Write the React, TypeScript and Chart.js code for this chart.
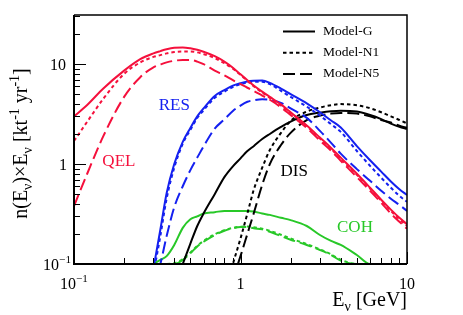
import React, { useEffect, useRef } from 'react';
import { Chart, registerables } from 'chart.js';
Chart.register(...registerables);

// Neutrino energy grid [GeV]
const energies = [0.1, 0.12, 0.15, 0.2, 0.25, 0.3, 0.33, 0.36, 0.4, 0.45, 0.5, 0.55, 0.6, 0.7, 0.8, 0.9, 1, 1.1, 1.2, 1.35, 1.5, 1.75, 2, 2.5, 3, 3.5, 4, 5, 6, 7, 8, 9, 10];

// QEL
const qelG = [3.0, 3.9, 5.7, 8.6, 11.2, 12.8, 13.5, 14.1, 14.6, 14.7, 14.4, 13.9, 13.3, 12.0, 10.6, 9.2, 7.9, 6.9, 6.1, 5.3, 4.7, 3.95, 3.3, 2.43, 1.84, 1.45, 1.16, 0.80, 0.58, 0.44, 0.35, 0.29, 0.25];
const qelN1 = [1.7, 2.65, 4.5, 8.0, 10.4, 11.8, 12.3, 12.8, 13.2, 13.4, 13.4, 13.1, 12.6, 11.5, 10.2, 9.0, 7.8, 6.8, 6.0, 5.2, 4.6, 3.85, 3.25, 2.4, 1.8, 1.42, 1.13, 0.78, 0.57, 0.43, 0.34, 0.28, 0.24];
const qelN5 = [0.38, 0.8, 1.9, 4.7, 7.4, 9.3, 9.9, 10.4, 10.8, 11.0, 11.0, 10.6, 10.0, 8.6, 7.7, 6.9, 6.3, 5.8, 5.4, 4.85, 4.4, 3.7, 3.1, 2.3, 1.72, 1.36, 1.08, 0.74, 0.54, 0.41, 0.32, 0.265, 0.225];

// RES
const resG = [null, null, null, null, null, 0.09, 0.22, 0.51, 1.0, 1.67, 2.3, 3.0, 3.6, 4.8, 5.5, 6.1, 6.45, 6.7, 6.8, 6.85, 6.5, 5.7, 5.0, 4.05, 3.3, 2.73, 2.32, 1.51, 1.09, 0.84, 0.67, 0.56, 0.49];
const resN1 = [null, null, null, null, null, 0.08, 0.19, 0.45, 0.92, 1.6, 2.2, 2.9, 3.45, 4.6, 5.3, 5.9, 6.3, 6.55, 6.65, 6.65, 6.3, 5.4, 4.7, 3.75, 3.05, 2.5, 2.1, 1.35, 0.96, 0.73, 0.58, 0.48, 0.42];
const resN5 = [null, null, null, null, null, 0.06, 0.1, 0.19, 0.37, 0.6, 0.87, 1.16, 1.5, 2.26, 2.8, 3.4, 3.85, 4.2, 4.35, 4.45, 4.4, 4.1, 3.6, 2.9, 2.15, 1.63, 1.27, 0.89, 0.68, 0.54, 0.45, 0.39, 0.34];

// DIS
const disG = [null, null, null, null, null, null, null, null, 0.06, 0.1, 0.16, 0.24, 0.32, 0.5, 0.74, 0.95, 1.14, 1.35, 1.51, 1.78, 2.0, 2.35, 2.66, 3.1, 3.27, 3.38, 3.42, 3.35, 3.1, 2.82, 2.54, 2.36, 2.25];
const disN1 = [null, null, null, null, null, null, null, null, null, null, null, null, null, null, 0.05, 0.1, 0.18, 0.32, 0.55, 0.92, 1.38, 2.05, 2.7, 3.35, 3.68, 3.88, 3.98, 3.88, 3.62, 3.3, 3.0, 2.76, 2.55];
const disN5 = [null, null, null, null, null, null, null, null, null, null, null, null, null, null, null, 0.07, 0.12, 0.2, 0.32, 0.62, 1.0, 1.55, 2.05, 2.75, 3.05, 3.2, 3.25, 3.2, 3.0, 2.75, 2.6, 2.42, 2.3];

// COH
const cohG = [null, null, null, null, null, 0.1, 0.11, 0.12, 0.155, 0.23, 0.28, 0.3, 0.32, 0.33, 0.34, 0.34, 0.34, 0.34, 0.335, 0.32, 0.31, 0.29, 0.275, 0.24, 0.195, 0.17, 0.155, 0.123, 0.1, 0.1, 0.1, 0.1, null];
const cohN1 = [null, null, null, null, null, null, 0.1, 0.1, 0.102, 0.112, 0.13, 0.152, 0.17, 0.198, 0.218, 0.23, 0.236, 0.237, 0.233, 0.226, 0.215, 0.196, 0.18, 0.158, 0.14, 0.125, 0.11, 0.1, 0.1, 0.1, 0.1, 0.1, null];
const cohN5 = [null, null, null, null, null, null, 0.1, 0.1, 0.1, 0.11, 0.128, 0.15, 0.167, 0.195, 0.215, 0.228, 0.234, 0.234, 0.228, 0.222, 0.21, 0.19, 0.175, 0.155, 0.138, 0.123, 0.108, 0.1, 0.1, 0.1, 0.1, 0.1, null];

const xTickValues = [0.1, 1, 10];
const yTickValues = [0.1, 1, 10];
const legendLabels = ['Model-G', 'Model-N1', 'Model-N5'];
const processNames = ['QEL', 'RES', 'DIS', 'COH'];

const RED = '#f5103c';
const BLUE = '#1420f0';
const BLACK = '#000000';
const GREEN = '#28c828';
const processColors = [RED, BLUE, BLACK, GREEN];
const SOLID: number[] = [];
const DOTTED = [3.5, 3];
const DASHED = [12, 5];
const modelDashes = [SOLID, DOTTED, DASHED];

// label anchors in data coordinates (E, value)
const labelAnchors = [
  [0.186, 1.07],
  [0.4, 3.85],
  [2.1, 0.85],
  [4.87, 0.23],
];

const seriesByProcess = [
  [qelG, qelN1, qelN5],
  [resG, resN1, resN5],
  [disG, disN1, disN5],
  [cohG, cohN1, cohN5],
];

const FAM = "'Liberation Serif', 'Times New Roman', serif";

type Part = { t: string; k?: 'sub' | 'sup' };

function richWidth(ctx: CanvasRenderingContext2D, parts: Part[], size: number) {
  let w = 0;
  for (const p of parts) {
    const fs = p.k ? size * 0.7 : size;
    ctx.font = `${fs}px ${FAM}`;
    w += ctx.measureText(p.t).width;
  }
  return w;
}

function drawRich(ctx: CanvasRenderingContext2D, parts: Part[], x: number, y: number, size: number, align: 'left' | 'right' | 'center') {
  const w = richWidth(ctx, parts, size);
  let cx = align === 'right' ? x - w : align === 'center' ? x - w / 2 : x;
  ctx.textAlign = 'left';
  ctx.textBaseline = 'alphabetic';
  for (const p of parts) {
    const fs = p.k ? size * 0.7 : size;
    const dy = p.k === 'sub' ? size * 0.25 : p.k === 'sup' ? -size * 0.42 : 0;
    ctx.font = `${fs}px ${FAM}`;
    ctx.fillText(p.t, cx, y + dy);
    cx += ctx.measureText(p.t).width;
  }
}

function tickParts(v: number): Part[] {
  if (v === 0.1) return [{ t: '10' }, { t: '\u22121', k: 'sup' }];
  if (v === 1) return [{ t: '1' }];
  return [{ t: '10' }];
}

const framePlugin = {
  id: 'framePlugin',
  afterDraw(chart: any) {
    const ctx: CanvasRenderingContext2D = chart.ctx;
    const xs = chart.scales.x;
    const ys = chart.scales.y;
    const { left, right, top, bottom } = chart.chartArea;
    ctx.save();
    ctx.strokeStyle = '#000';
    ctx.fillStyle = '#000';
    ctx.setLineDash([]);
    // frame
    ctx.lineWidth = 1.5;
    ctx.beginPath();
    ctx.moveTo(left, top);
    ctx.lineTo(right, top);
    ctx.lineTo(right, bottom);
    ctx.stroke();
    ctx.lineWidth = 2;
    ctx.beginPath();
    ctx.moveTo(left, top);
    ctx.lineTo(left, bottom);
    ctx.lineTo(right, bottom);
    ctx.stroke();
    // ticks
    ctx.lineWidth = 1;
    for (const d of [0.1, 1, 10]) {
      for (let m = 1; m <= 9; m++) {
        const v = d * m;
        if (v >= ys.min - 1e-9 && v <= ys.max) {
          const y = Math.round(ys.getPixelForValue(v)) + 0.5;
          ctx.beginPath();
          ctx.moveTo(left, y);
          ctx.lineTo(left + (m === 1 ? 12 : 6), y);
          ctx.stroke();
        }
        if (v >= xs.min - 1e-9 && v <= xs.max + 1e-9) {
          const x = Math.round(xs.getPixelForValue(v)) + 0.5;
          ctx.beginPath();
          ctx.moveTo(x, bottom);
          ctx.lineTo(x, bottom - (m === 1 ? 12 : 6));
          ctx.stroke();
        }
      }
    }
    // tick labels
    for (const v of xTickValues) {
      const x = xs.getPixelForValue(v);
      drawRich(ctx, tickParts(v), x, bottom + 25, 16, 'center');
    }
    const yRight = [71, 67, 66];
    yTickValues.forEach((v, i) => {
      const y = ys.getPixelForValue(v);
      drawRich(ctx, tickParts(v), yRight[i], y + 5.5, 16, 'right');
    });
    // axis titles
    drawRich(ctx, [{ t: 'E' }, { t: '\u03bd', k: 'sub' }, { t: ' [GeV]' }], right, bottom + 42, 20, 'right');
    ctx.save();
    ctx.translate(27, (top + bottom) / 2 + 4);
    ctx.rotate(-Math.PI / 2);
    drawRich(ctx, [
      { t: 'n(E' }, { t: '\u03bd', k: 'sub' }, { t: ')\u00d7E' }, { t: '\u03bd', k: 'sub' },
      { t: ' [kt' }, { t: '-1', k: 'sup' }, { t: ' yr' }, { t: '-1', k: 'sup' }, { t: ']' },
    ], 0, 0, 20, 'center');
    ctx.restore();
    // legend
    legendLabels.forEach((lab, i) => {
      const y = top + 16.5 + i * 21.2;
      ctx.lineWidth = 2;
      ctx.strokeStyle = '#000';
      ctx.setLineDash(modelDashes[i]);
      ctx.beginPath();
      ctx.moveTo(283, y);
      ctx.lineTo(315, y);
      ctx.stroke();
      ctx.setLineDash([]);
      ctx.font = `13.5px ${FAM}`;
      ctx.textAlign = 'left';
      ctx.textBaseline = 'middle';
      ctx.fillText(lab, 323, y);
    });
    // process labels
    processNames.forEach((name, i) => {
      const [e, v] = labelAnchors[i];
      ctx.fillStyle = processColors[i];
      ctx.font = `17px ${FAM}`;
      ctx.textAlign = 'center';
      ctx.textBaseline = 'middle';
      ctx.fillText(name, xs.getPixelForValue(e), ys.getPixelForValue(v));
    });
    ctx.restore();
  },
};

export default function App() {
  const ref = useRef<HTMLCanvasElement>(null);
  useEffect(() => {
    document.body.style.margin = '0';
    const datasets: any[] = [];
    seriesByProcess.forEach((group, pi) => {
      group.forEach((vals, mi) => {
        datasets.push({
          label: `${processNames[pi]} ${legendLabels[mi]}`,
          data: energies.map((e, i) => ({ x: e, y: vals[i] })),
          borderColor: processColors[pi],
          borderWidth: 2,
          borderDash: modelDashes[mi],
          pointRadius: 0,
          fill: false,
          cubicInterpolationMode: 'monotone',
          spanGaps: false,
        });
      });
    });
    const chart = new Chart(ref.current!, {
      type: 'line',
      data: { datasets },
      options: {
        animation: false,
        responsive: false,
        devicePixelRatio: 1,
        layout: { padding: { left: 74, right: 56, top: 15, bottom: 51 } },
        plugins: { legend: { display: false }, tooltip: { enabled: false } },
        scales: {
          x: { type: 'logarithmic', min: 0.1, max: 10, display: false },
          y: { type: 'logarithmic', min: 0.1, max: 31, display: false },
        },
      },
      plugins: [framePlugin],
    });
    return () => chart.destroy();
  }, []);
  return (
    <div style={{ width: 463, height: 315, background: '#fff' }}>
      <canvas ref={ref} width={463} height={315} style={{ display: 'block' }} />
    </div>
  );
}
